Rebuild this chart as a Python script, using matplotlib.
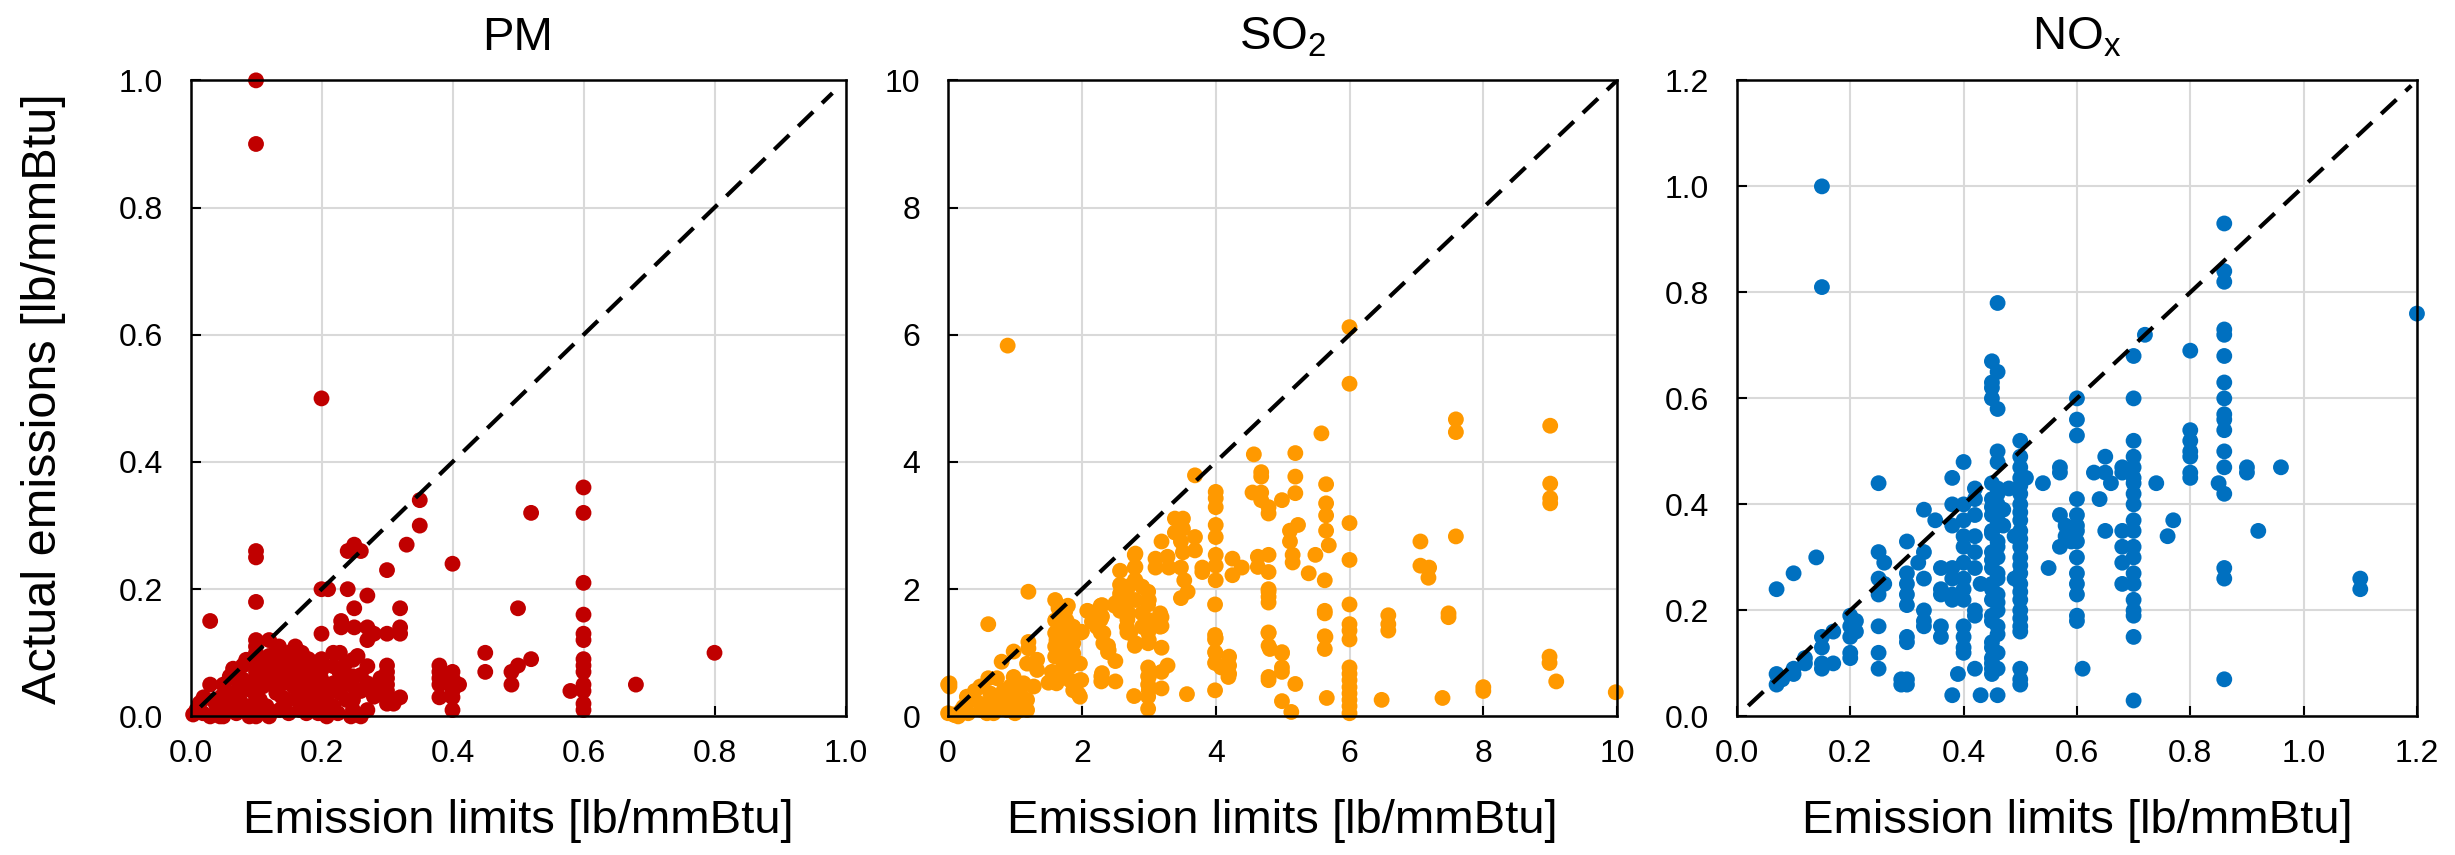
import numpy as np
import matplotlib.pyplot as plt

plt.rcParams['font.family'] = ['Liberation Sans', 'DejaVu Sans']
plt.rcParams['mathtext.fontset'] = 'custom'
plt.rcParams['mathtext.rm'] = 'Liberation Sans'

# (emission limit, actual emission) pairs, lb/mmBtu
pm_pts = [
    (0.10, 1.00), (0.10, 0.90), (0.20, 0.50), (0.60, 0.36), (0.60, 0.32), (0.52, 0.32), (0.35, 0.34), (0.35, 0.30),
    (0.33, 0.27), (0.40, 0.24), (0.30, 0.23), (0.24, 0.26), (0.25, 0.27), (0.26, 0.26), (0.10, 0.26), (0.10, 0.25),
    (0.10, 0.18), (0.20, 0.20), (0.21, 0.20), (0.24, 0.20), (0.27, 0.19), (0.25, 0.17), (0.32, 0.17), (0.50, 0.17),
    (0.60, 0.21), (0.60, 0.16), (0.60, 0.13), (0.60, 0.12), (0.03, 0.15), (0.23, 0.15), (0.23, 0.14), (0.25, 0.14),
    (0.27, 0.14), (0.28, 0.13), (0.27, 0.12), (0.30, 0.13), (0.32, 0.14), (0.32, 0.13), (0.20, 0.13), (0.45, 0.10),
    (0.80, 0.10), (0.60, 0.09), (0.60, 0.08), (0.60, 0.07), (0.52, 0.09), (0.50, 0.08), (0.49, 0.07), (0.45, 0.07),
    (0.38, 0.08), (0.38, 0.07), (0.38, 0.06), (0.38, 0.05), (0.40, 0.07), (0.40, 0.06), (0.40, 0.05), (0.40, 0.04),
    (0.40, 0.03), (0.40, 0.01), (0.41, 0.05), (0.38, 0.03), (0.49, 0.05), (0.58, 0.04), (0.68, 0.05), (0.60, 0.05),
    (0.60, 0.04), (0.60, 0.02), (0.60, 0.01), (0.30, 0.08), (0.30, 0.07), (0.30, 0.06), (0.30, 0.05), (0.30, 0.04),
    (0.30, 0.03), (0.30, 0.02), (0.32, 0.03), (0.31, 0.02),
    (0.03, 0.05), (0.014, 0.021), (0.009, 0.010), (0.019, 0.005), (0.004, 0.003), (0.05, 0.05), (0.06, 0.063),
    (0.047, 0.031), (0.03, 0.0), (0.05, 0.0), (0.08, 0.08), (0.08, 0.058), (0.10, 0.12), (0.10, 0.11), (0.10, 0.10),
    (0.10, 0.09), (0.10, 0.08), (0.10, 0.07), (0.10, 0.06), (0.10, 0.05), (0.10, 0.04), (0.10, 0.03), (0.10, 0.02),
    (0.10, 0.0), (0.12, 0.12), (0.135, 0.11), (0.16, 0.11), (0.17, 0.10), (0.18, 0.09), (0.12, 0.079),
    (0.136, 0.079), (0.15, 0.089), (0.16, 0.079), (0.147, 0.068), (0.126, 0.063), (0.141, 0.052), (0.157, 0.047),
    (0.167, 0.058), (0.177, 0.047), (0.131, 0.037), (0.147, 0.026), (0.162, 0.026), (0.177, 0.016), (0.116, 0.016),
    (0.106, 0.026), (0.085, 0.016), (0.075, 0.026), (0.065, 0.037), (0.09, 0.042), (0.11, 0.047), (0.136, 0.010),
    (0.167, 0.010), (0.177, 0.005), (0.09, 0.0), (0.12, 0.0), (0.15, 0.005), (0.20, 0.09), (0.20, 0.073),
    (0.20, 0.058), (0.20, 0.042), (0.20, 0.026), (0.20, 0.010), (0.208, 0.0), (0.218, 0.10), (0.228, 0.10),
    (0.218, 0.079), (0.228, 0.068), (0.218, 0.052), (0.228, 0.037), (0.238, 0.026), (0.218, 0.016), (0.248, 0.089),
    (0.248, 0.063), (0.248, 0.047), (0.248, 0.026), (0.248, 0.010), (0.26, 0.0), (0.27, 0.079), (0.27, 0.052),
    (0.27, 0.010), (0.28, 0.047), (0.28, 0.031), (0.187, 0.079), (0.192, 0.063), (0.187, 0.037), (0.192, 0.021),
    (0.106, 0.079), (0.085, 0.089), (0.07, 0.058), (0.055, 0.021), (0.04, 0.016), (0.07, 0.005),
    (0.14, 0.09), (0.13, 0.10), (0.15, 0.10), (0.16, 0.095), (0.12, 0.095), (0.14, 0.03), (0.155, 0.06),
    (0.175, 0.075), (0.165, 0.04), (0.125, 0.05), (0.11, 0.065), (0.185, 0.055), (0.18, 0.025), (0.195, 0.005),
    (0.21, 0.035), (0.235, 0.055), (0.235, 0.08), (0.225, 0.005), (0.245, 0.0), (0.26, 0.04), (0.26, 0.065),
    (0.255, 0.095), (0.29, 0.06), (0.05, 0.015), (0.06, 0.01), (0.02, 0.03), (0.035, 0.025), (0.065, 0.075),
    (0.075, 0.045), (0.045, 0.0),
]

so2_pts = [
    (6.0, 6.12), (0.89, 5.83), (6.0, 5.23), (7.59, 4.67), (7.59, 4.47), (9.0, 4.57), (5.58, 4.45), (4.57, 4.12),
    (5.19, 4.14), (3.69, 3.79), (4.68, 3.84), (4.68, 3.77), (5.19, 3.77), (5.65, 3.65), (9.0, 3.66), (9.0, 3.43),
    (9.0, 3.35), (4.55, 3.52), (4.68, 3.52), (4.68, 3.40), (4.79, 3.29), (4.79, 3.19), (4.99, 3.40), (5.19, 3.51),
    (4.0, 3.53), (4.0, 3.43), (4.0, 3.29), (5.65, 3.35), (5.65, 3.16), (5.65, 2.92), (5.69, 2.69), (6.0, 3.04),
    (7.59, 2.83), (7.06, 2.75), (5.23, 3.01), (5.11, 2.92), (5.11, 2.75), (5.15, 2.54), (5.15, 2.42), (5.49, 2.54),
    (6.0, 2.46), (5.39, 2.25), (5.63, 2.14), (7.06, 2.37), (7.19, 2.34), (7.18, 2.18), (4.0, 3.01), (4.0, 2.82),
    (4.0, 2.54), (4.0, 2.37), (4.0, 2.14), (4.25, 2.48), (4.25, 2.22), (4.39, 2.34), (4.63, 2.51), (4.79, 2.54),
    (4.79, 2.27), (4.63, 2.35), (4.79, 2.0), (4.79, 1.79), (3.8, 2.34), (3.8, 2.27), (3.39, 3.11), (3.51, 3.11),
    (3.51, 2.95), (3.39, 2.89), (3.48, 2.75), (3.51, 2.58), (3.69, 2.82), (3.69, 2.61), (3.19, 2.75), (3.1, 2.48),
    (3.1, 2.34), (3.28, 2.51), (3.3, 2.34), (3.48, 2.34), (3.53, 2.14), (3.58, 1.96), (3.48, 1.86), (2.79, 2.54),
    (2.79, 2.34), (2.79, 2.14), (2.99, 1.96), (2.99, 1.76), (2.99, 1.52), (2.99, 1.32), (2.99, 1.15), (2.57, 2.29),
    (2.57, 2.07), (2.57, 1.86), (2.57, 1.66), (2.68, 2.0), (2.68, 1.52), (2.68, 1.32), (2.79, 1.11), (2.49, 1.74),
    (2.28, 1.74), (2.28, 1.52), (2.28, 1.32), (2.39, 1.11), (2.39, 1.01), (2.5, 0.87), (2.08, 1.66), (2.15, 1.49),
    (1.99, 1.32), (3.19, 1.56), (3.19, 1.42), (3.19, 1.08), (3.28, 0.80), (3.19, 0.70), (3.99, 1.76), (3.99, 1.28),
    (3.99, 1.21), (3.99, 1.01), (3.99, 0.84), (4.08, 0.77), (4.2, 0.94), (4.2, 0.80), (4.2, 0.67), (4.79, 1.32),
    (4.79, 1.11), (4.81, 1.06), (4.99, 1.01), (4.99, 0.77), (4.99, 0.70), (5.19, 0.51), (4.79, 0.57), (4.99, 0.24),
    (5.13, 0.07), (5.63, 1.66), (5.63, 1.62), (5.63, 1.26), (5.63, 1.06), (6.0, 1.76), (6.0, 1.45), (6.0, 1.35),
    (6.0, 1.21), (6.0, 0.77), (6.0, 0.67), (6.0, 0.57), (6.0, 0.46), (6.0, 0.36), (6.0, 0.26), (6.0, 0.16),
    (6.0, 0.05), (5.66, 0.29), (6.58, 1.59), (6.58, 1.45), (6.58, 1.35), (7.48, 1.62), (7.48, 1.56), (6.48, 0.26),
    (7.39, 0.29), (8.0, 0.46), (8.0, 0.40), (8.99, 0.94), (8.99, 0.84), (9.09, 0.55), (9.98, 0.38), (3.57, 0.35),
    (3.99, 0.41), (2.78, 0.32), (2.99, 0.77), (2.99, 0.63), (2.99, 0.50), (2.99, 0.31), (2.99, 0.12), (3.19, 0.44),
    (2.29, 0.63), (2.29, 0.55), (2.5, 0.55), (1.99, 0.57), (1.95, 0.35), (1.5, 0.53), (1.6, 1.83), (1.79, 1.74),
    (1.2, 1.96), (0.6, 1.45), (0.0, 0.50), (0.0, 0.05), (0.08, 0.03),
    (0.02, 0.52), (0.02, 0.47), (0.1, 0.02), (0.28, 0.31), (0.38, 0.26), (0.23, 0.15), (0.48, 0.47), (0.6, 0.6),
    (0.73, 0.6), (0.8, 0.86), (0.98, 1.02), (1.2, 1.17), (1.2, 1.07), (0.58, 0.05), (0.78, 0.15), (0.98, 0.26),
    (1.08, 0.36), (1.18, 0.26), (0.83, 0.41), (0.98, 0.62), (1.18, 0.83), (1.33, 0.89), (1.33, 0.73), (1.28, 0.47),
    (1.13, 0.52), (0.88, 0.10), (1.08, 0.10), (1.18, 0.10), (0.68, 0.05), (0.48, 0.20), (0.63, 0.36), (0.93, 0.47),
    (1.6, 1.51), (1.6, 1.31), (1.6, 1.10), (1.6, 0.94), (1.67, 1.57), (1.67, 1.41), (1.67, 1.20), (1.77, 1.51),
    (1.77, 1.31), (1.77, 1.10), (1.87, 1.41), (1.87, 1.15), (1.87, 0.99), (1.72, 0.89), (1.72, 0.78), (1.82, 0.78),
    (1.82, 0.57), (1.87, 0.41), (1.97, 0.83), (1.97, 0.57), (1.97, 0.31), (1.62, 0.52), (2.0, 1.33), (2.1, 1.65),
    (2.2, 1.62), (2.3, 1.75), (2.3, 1.57), (2.22, 1.41), (2.32, 1.31), (2.32, 1.15), (2.4, 1.04), (2.3, 0.68),
    (2.3, 0.57), (2.57, 1.93), (2.5, 1.78), (2.6, 1.72), (2.67, 2.04), (2.67, 1.83), (2.7, 1.62), (2.67, 1.41),
    (2.72, 1.31), (2.8, 2.56), (2.8, 2.35), (2.8, 2.14), (2.8, 1.83), (2.8, 1.15), (2.9, 2.04), (2.9, 1.62),
    (2.9, 1.41), (3.0, 1.83), (3.0, 1.20), (3.17, 1.62), (3.17, 1.41), (3.0, 0.62), (3.0, 0.41), (4.0, 1.23),
    (4.0, 0.99), (4.19, 0.62), (4.79, 1.96), (4.79, 1.88), (4.79, 1.31), (4.79, 0.62), (4.99, 0.99), (5.64, 1.25),
    (0.4, 0.4), (0.5, 0.1), (0.7, 0.25), (0.9, 0.15), (1.0, 0.05), (1.1, 0.2), (0.3, 0.05), (0.2, 0.1),
    (0.15, 0.0), (0.6, 0.2), (0.8, 0.3),
    (1.65, 1.7), (1.7, 1.0), (1.75, 1.65), (1.85, 1.25), (1.62, 1.2), (1.7, 0.65), (1.9, 0.85), (1.55, 0.7),
]

nox_pts = [
    (0.15, 1.0), (0.15, 0.81), (0.46, 0.78), (1.2, 0.76), (0.86, 0.93), (0.86, 0.84), (0.86, 0.82), (0.72, 0.72),
    (0.80, 0.69), (0.86, 0.73), (0.86, 0.72), (0.86, 0.68), (0.70, 0.68), (0.45, 0.67), (0.46, 0.65), (0.45, 0.63),
    (0.45, 0.62), (0.45, 0.60), (0.46, 0.58), (0.86, 0.63), (0.86, 0.60), (0.86, 0.57), (0.86, 0.56), (0.86, 0.54),
    (0.86, 0.50), (0.86, 0.47), (0.86, 0.42), (0.70, 0.60), (0.60, 0.60), (0.60, 0.56), (0.60, 0.53), (0.80, 0.54),
    (0.80, 0.52), (0.80, 0.50), (0.80, 0.49), (0.80, 0.46), (0.80, 0.45), (0.85, 0.44), (0.90, 0.47), (0.90, 0.46),
    (0.96, 0.47), (0.92, 0.35), (0.74, 0.44), (0.77, 0.37), (0.76, 0.34), (0.50, 0.52), (0.46, 0.50), (0.46, 0.48),
    (0.65, 0.49),
    (0.70, 0.52), (0.70, 0.49), (0.70, 0.47), (0.70, 0.45), (0.70, 0.44), (0.70, 0.42), (0.70, 0.40), (0.70, 0.37),
    (0.70, 0.35), (0.70, 0.32), (0.70, 0.30), (0.70, 0.27), (0.70, 0.25), (0.70, 0.22), (0.70, 0.20), (0.70, 0.19),
    (0.70, 0.15), (0.70, 0.03),
    (0.68, 0.47), (0.68, 0.46), (0.66, 0.44), (0.63, 0.46), (0.65, 0.46), (0.64, 0.41), (0.65, 0.35), (0.68, 0.35),
    (0.68, 0.32), (0.68, 0.29), (0.68, 0.25), (0.57, 0.47), (0.57, 0.46), (0.54, 0.44),
    (0.60, 0.41), (0.60, 0.38), (0.60, 0.36), (0.60, 0.35), (0.60, 0.33), (0.60, 0.30), (0.60, 0.27), (0.60, 0.25),
    (0.60, 0.23), (0.60, 0.19), (0.60, 0.18),
    (0.57, 0.38), (0.58, 0.36), (0.58, 0.34), (0.57, 0.32), (0.59, 0.33), (0.55, 0.28), (0.61, 0.09), (0.86, 0.28),
    (0.86, 0.26), (1.10, 0.26), (1.10, 0.24), (0.86, 0.07),
    (0.50, 0.49), (0.50, 0.47), (0.50, 0.45), (0.50, 0.42), (0.50, 0.40), (0.50, 0.37), (0.50, 0.35), (0.50, 0.32),
    (0.50, 0.30), (0.50, 0.27), (0.50, 0.25), (0.50, 0.22), (0.50, 0.20), (0.50, 0.17), (0.50, 0.16),
    (0.50, 0.435), (0.50, 0.385), (0.50, 0.335), (0.50, 0.285), (0.50, 0.235), (0.50, 0.185),
    (0.51, 0.45), (0.49, 0.34), (0.49, 0.26), (0.50, 0.09), (0.50, 0.07), (0.50, 0.06),
    (0.45, 0.44), (0.46, 0.43), (0.45, 0.41), (0.46, 0.40), (0.45, 0.38), (0.46, 0.36), (0.45, 0.35), (0.46, 0.33),
    (0.45, 0.31), (0.46, 0.30), (0.45, 0.28), (0.46, 0.26), (0.45, 0.25), (0.46, 0.23), (0.45, 0.22), (0.46, 0.20),
    (0.45, 0.18), (0.46, 0.17), (0.45, 0.14), (0.45, 0.13), (0.45, 0.11), (0.45, 0.09), (0.46, 0.09), (0.45, 0.08),
    (0.46, 0.42), (0.45, 0.395), (0.46, 0.37), (0.45, 0.345), (0.46, 0.32), (0.45, 0.295), (0.46, 0.27),
    (0.45, 0.24), (0.46, 0.215), (0.45, 0.19), (0.46, 0.155), (0.46, 0.12), (0.45, 0.10),
    (0.48, 0.43), (0.47, 0.39), (0.47, 0.36), (0.46, 0.04), (0.43, 0.04), (0.42, 0.09), (0.39, 0.08), (0.38, 0.04),
    (0.40, 0.48), (0.38, 0.45), (0.38, 0.40), (0.38, 0.36), (0.38, 0.28), (0.38, 0.26), (0.38, 0.23),
    (0.40, 0.40), (0.40, 0.37), (0.40, 0.34), (0.40, 0.32), (0.40, 0.29), (0.40, 0.26), (0.40, 0.24), (0.40, 0.22),
    (0.42, 0.43), (0.42, 0.41), (0.42, 0.38), (0.42, 0.34), (0.42, 0.31), (0.42, 0.28), (0.42, 0.20), (0.42, 0.19),
    (0.40, 0.17), (0.40, 0.15), (0.40, 0.13), (0.40, 0.12), (0.43, 0.25),
    (0.33, 0.39), (0.35, 0.37), (0.33, 0.31), (0.25, 0.44), (0.14, 0.30), (0.10, 0.27), (0.07, 0.24), (0.25, 0.31),
    (0.26, 0.29), (0.25, 0.26), (0.26, 0.25), (0.25, 0.23), (0.30, 0.33), (0.30, 0.27), (0.30, 0.25), (0.30, 0.23),
    (0.30, 0.21), (0.32, 0.29), (0.33, 0.26), (0.36, 0.28), (0.36, 0.24), (0.36, 0.23), (0.33, 0.20), (0.33, 0.18),
    (0.33, 0.17), (0.36, 0.17), (0.36, 0.15), (0.30, 0.15), (0.30, 0.14), (0.25, 0.17), (0.25, 0.12), (0.25, 0.09),
    (0.29, 0.07), (0.30, 0.07), (0.29, 0.06), (0.30, 0.06), (0.20, 0.19), (0.21, 0.18), (0.20, 0.17), (0.21, 0.16),
    (0.20, 0.15), (0.20, 0.12), (0.20, 0.11), (0.17, 0.16), (0.15, 0.15), (0.15, 0.13), (0.15, 0.10), (0.15, 0.09),
    (0.17, 0.10), (0.12, 0.11), (0.12, 0.10), (0.10, 0.09), (0.10, 0.08), (0.07, 0.08), (0.07, 0.06), (0.08, 0.07),
    (0.38, 0.22),
]

titles = ['PM', 'SO$_\\mathregular{2}$', 'NO$_\\mathregular{x}$']
colors = ['#C00000', '#FF9900', '#0070C0']
limits = [1.0, 10.0, 1.2]
ticks = [[0.0, 0.2, 0.4, 0.6, 0.8, 1.0],
         [0, 2, 4, 6, 8, 10],
         [0.0, 0.2, 0.4, 0.6, 0.8, 1.0, 1.2]]
tick_labels = [['0.0', '0.2', '0.4', '0.6', '0.8', '1.0'],
               ['0', '2', '4', '6', '8', '10'],
               ['0.0', '0.2', '0.4', '0.6', '0.8', '1.0', '1.2']]
# start / end of the 1:1 reference line in each panel
diag_ranges = [[0.015, 0.98], [0.1, 10.0], [0.02, 1.19]]

positions = [[0.0776, 0.1621, 0.2668, 0.7439],
             [0.3862, 0.1621, 0.2725, 0.7439],
             [0.7075, 0.1621, 0.2770, 0.7439]]

fig = plt.figure(figsize=(24.55, 8.55), dpi=100)

for i, pts in enumerate([pm_pts, so2_pts, nox_pts]):
    ax = fig.add_axes(positions[i])
    xy = np.array(pts)
    ax.scatter(xy[:, 0], xy[:, 1], s=130, color=colors[i], edgecolors='none', zorder=3, clip_on=False)
    ax.plot(diag_ranges[i], diag_ranges[i], color='black', lw=3, ls=(0, (5, 3)), zorder=4)
    ax.set_xlim(0, limits[i])
    ax.set_ylim(0, limits[i])
    ax.set_xticks(ticks[i])
    ax.set_xticklabels(tick_labels[i])
    ax.set_yticks(ticks[i])
    ax.set_yticklabels(tick_labels[i])
    ax.grid(True, color='#D9D9D9', lw=1.5)
    ax.set_axisbelow(True)
    ax.tick_params(direction='in', length=7, width=1.5, labelsize=23, colors='black')
    ax.tick_params(axis='x', pad=16)
    ax.tick_params(axis='y', pad=20)
    for sp in ax.spines.values():
        sp.set_linewidth(1.8)
        sp.set_zorder(5)
    ax.set_title(titles[i], fontsize=34, pad=22)
    ax.set_xlabel('Emission limits [lb/mmBtu]', fontsize=34, labelpad=22)
    if i == 0:
        ax.set_ylabel('Actual emissions [lb/mmBtu]', fontsize=35, labelpad=38)

fig.savefig('out.png', dpi=100)
